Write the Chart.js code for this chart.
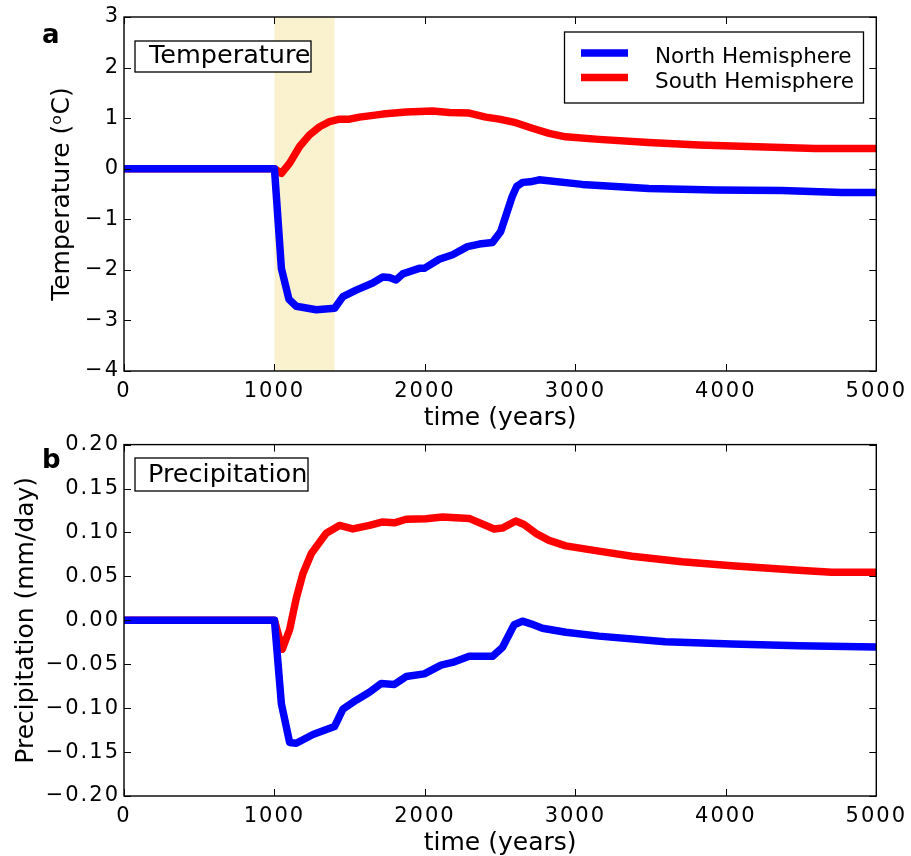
<!DOCTYPE html>
<html><head><meta charset="utf-8">
<script src="https://cdn.jsdelivr.net/npm/chart.js@4/dist/chart.umd.min.js"></script>
<style>
html,body{margin:0;padding:0;background:#fff;}
#wrap{position:relative;width:911px;height:856px;overflow:hidden;}
.c{position:absolute;left:0;width:911px;}
</style></head><body>
<div id="wrap">
<div class="c" style="top:0;height:440px"><canvas id="ca"></canvas></div>
<div class="c" style="top:428px;height:428px"><canvas id="cb"></canvas></div>
</div>
<script>
// ---- Data ----
const seriesNames = ['North Hemisphere', 'South Hemisphere'];
const spanYears = [1000, 1400];

// Panel a: temperature anomaly (°C)
const tempNorthYears = [0, 1000, 1046, 1096, 1145, 1278, 1400, 1455, 1543, 1653, 1720, 1764, 1808, 1852, 1963, 1996, 2095, 2184, 2283, 2361, 2449, 2504, 2580, 2610, 2650, 2700, 2759, 3046, 3488, 3930, 4372, 4770, 5000];
const tempNorth = [0, 0, -1.97, -2.58, -2.72, -2.79, -2.76, -2.53, -2.40, -2.26, -2.14, -2.15, -2.20, -2.08, -1.97, -1.97, -1.79, -1.70, -1.54, -1.49, -1.46, -1.24, -0.55, -0.35, -0.27, -0.26, -0.22, -0.31, -0.39, -0.42, -0.43, -0.47, -0.47];
const tempSouthYears = [0, 1000, 1046, 1101, 1167, 1233, 1300, 1366, 1432, 1499, 1565, 1720, 1875, 2051, 2162, 2294, 2405, 2494, 2604, 2714, 2825, 2936, 3156, 3488, 3820, 4151, 4593, 5000];
const tempSouth = [0, 0, -0.09, 0.11, 0.44, 0.67, 0.83, 0.93, 0.98, 0.98, 1.02, 1.08, 1.12, 1.14, 1.11, 1.10, 1.02, 0.98, 0.91, 0.80, 0.70, 0.63, 0.58, 0.52, 0.47, 0.44, 0.40, 0.40];

// Panel b: precipitation anomaly (mm/day)
const precNorthYears = [0, 1000, 1046, 1101, 1145, 1256, 1399, 1455, 1543, 1631, 1709, 1797, 1875, 1996, 2107, 2184, 2294, 2449, 2515, 2593, 2648, 2704, 2781, 2936, 3156, 3598, 4040, 4483, 5000];
const precNorth = [0, 0, -0.095, -0.139, -0.140, -0.130, -0.121, -0.101, -0.091, -0.082, -0.072, -0.073, -0.064, -0.061, -0.051, -0.048, -0.041, -0.041, -0.031, -0.005, -0.001, -0.004, -0.009, -0.0136, -0.018, -0.0245, -0.027, -0.029, -0.0305];
const precSouthYears = [0, 1000, 1052, 1101, 1145, 1189, 1245, 1344, 1432, 1521, 1631, 1720, 1797, 1875, 2007, 2117, 2294, 2460, 2515, 2604, 2659, 2737, 2825, 2936, 3156, 3377, 3709, 4040, 4483, 4704, 5000];
const precSouth = [0, 0, -0.033, -0.0105, 0.025, 0.053, 0.076, 0.099, 0.108, 0.104, 0.108, 0.112, 0.111, 0.115, 0.1156, 0.1175, 0.116, 0.104, 0.105, 0.113, 0.109, 0.099, 0.091, 0.0847, 0.0787, 0.073, 0.0667, 0.062, 0.057, 0.0546, 0.0546];

const xTicks = [0, 1000, 2000, 3000, 4000, 5000];
const tempTicks = [-4, -3, -2, -1, 0, 1, 2, 3];
const precTicks = [-0.20, -0.15, -0.10, -0.05, 0.00, 0.05, 0.10, 0.15, 0.20];

const FONT = "'DejaVu Sans', 'Liberation Sans', sans-serif";
const BLUE = '#0000ff', RED = '#ff0000';

function pts(xs, ys) { return xs.map((x, i) => ({x: x, y: ys[i]})); }
function minus(s) { return s.replace('-', '\u2212'); }

// widen tick-label glyph spacing (the reference's tick digits are set loosely)
const spacingPlugin = {
  id: 'tickSpacing',
  afterUpdate(chart) {
    Object.values(chart.scales).forEach(s => {
      if (s._spacedPatch) return;
      const orig = s.drawLabels.bind(s);
      s.drawLabels = function (area) {
        const ctx = this.ctx;
        const prev = ctx.letterSpacing;
        ctx.letterSpacing = '2px';
        orig(area);
        ctx.letterSpacing = prev || '0px';
      };
      s._spacedPatch = true;
    });
  }
};

const decoPlugin = {
  id: 'deco',
  beforeDatasetsDraw(chart, args, o) {
    if (!o.span) return;
    const {ctx, chartArea: a, scales: {x}} = chart;
    const x0 = x.getPixelForValue(o.span[0]), x1 = x.getPixelForValue(o.span[1]);
    ctx.save();
    ctx.fillStyle = 'rgb(250,242,206)';
    ctx.fillRect(x0, a.top, x1 - x0, a.bottom - a.top);
    ctx.restore();
  },
  afterDraw(chart, args, o) {
    const {ctx, chartArea: a, scales: {x, y}} = chart;
    ctx.save();
    ctx.letterSpacing = '0px';
    // inward ticks on all four sides
    ctx.strokeStyle = '#000';
    ctx.lineWidth = 1;
    const L = 7;
    ctx.beginPath();
    x.ticks.forEach(t => {
      const px = Math.round(x.getPixelForValue(t.value)) + 0.5;
      ctx.moveTo(px, a.bottom); ctx.lineTo(px, a.bottom - L);
      ctx.moveTo(px, a.top); ctx.lineTo(px, a.top + L);
    });
    y.ticks.forEach(t => {
      const py = Math.round(y.getPixelForValue(t.value)) + 0.5;
      ctx.moveTo(a.left, py); ctx.lineTo(a.left + L, py);
      ctx.moveTo(a.right, py); ctx.lineTo(a.right - L, py);
    });
    ctx.stroke();
    // frame
    ctx.lineWidth = 1.4;
    ctx.strokeRect(a.left, a.top, a.right - a.left, a.bottom - a.top);
    // panel letter
    ctx.fillStyle = '#000';
    ctx.font = 'bold 26px ' + FONT;
    ctx.textBaseline = 'alphabetic';
    ctx.textAlign = 'left';
    ctx.fillText(o.letter, o.letterX, o.letterY);
    // text box
    ctx.fillStyle = '#fff';
    ctx.fillRect(o.box[0], o.box[1], o.box[2], o.box[3]);
    ctx.fillStyle = '#000';
    ctx.font = '25.5px ' + FONT;
    ctx.fillText(o.label, o.labelX, o.labelY);
    ctx.lineWidth = 1.3;
    ctx.strokeRect(o.box[0], o.box[1], o.box[2], o.box[3]);
    // legend
    if (o.legend) {
      const lg = o.legend;
      ctx.fillStyle = '#fff';
      ctx.fillRect(lg.box[0], lg.box[1], lg.box[2], lg.box[3]);
      ctx.strokeRect(lg.box[0], lg.box[1], lg.box[2], lg.box[3]);
      ctx.font = '21.5px ' + FONT;
      chart.data.datasets.forEach((ds, i) => {
        const yy = lg.rowY[i];
        ctx.strokeStyle = ds.borderColor;
        ctx.lineWidth = 7.5;
        ctx.beginPath();
        ctx.moveTo(lg.lineX[0], yy); ctx.lineTo(lg.lineX[1], yy);
        ctx.stroke();
        ctx.fillStyle = '#000';
        ctx.textBaseline = 'alphabetic';
        ctx.fillText(ds.label, lg.textX, yy + lg.textDy);
      });
    }
    ctx.restore();
  }
};

function makeChart(id, cfg) {
  return new Chart(document.getElementById(id), {
    type: 'line',
    data: {
      datasets: [
        {label: seriesNames[0], data: pts(cfg.nx, cfg.ny), borderColor: BLUE, order: 0},
        {label: seriesNames[1], data: pts(cfg.sx, cfg.sy), borderColor: RED, order: 1}
      ]
    },
    options: {
      responsive: true,
      maintainAspectRatio: false,
      animation: false,
      devicePixelRatio: 1,
      parsing: false,
      elements: {
        line: {borderWidth: 7.5, tension: 0, borderJoinStyle: 'round', borderCapStyle: 'butt', fill: false},
        point: {radius: 0, hoverRadius: 0}
      },
      layout: {padding: {top: cfg.padTop, right: 33, left: 0, bottom: 0}},
      plugins: {
        legend: {display: false},
        tooltip: {enabled: false},
        deco: cfg.deco
      },
      scales: {
        x: {
          type: 'linear', min: 0, max: 5000,
          afterBuildTicks: s => { s.ticks = xTicks.map(v => ({value: v})); },
          afterFit: s => { s.height = cfg.xH; },
          grid: {display: false, drawTicks: false},
          border: {display: false},
          ticks: {color: '#000', font: {family: FONT, size: 21}, padding: 8, maxRotation: 0,
                  callback: v => String(v)},
          title: {display: true, text: 'time (years)', color: '#000',
                  font: {family: FONT, size: 25, lineHeight: 1}, padding: {top: 0, bottom: cfg.xtPad}}
        },
        y: {
          type: 'linear', min: cfg.yTicks[0], max: cfg.yTicks[cfg.yTicks.length - 1],
          afterBuildTicks: s => { s.ticks = cfg.yTicks.map(v => ({value: v})); },
          afterFit: s => { s.width = 124; },
          grid: {display: false, drawTicks: false},
          border: {display: false},
          ticks: {color: '#000', font: {family: FONT, size: 21}, padding: 4,
                  callback: cfg.fmt},
          title: {display: true, text: cfg.ytitle, color: '#000',
                  font: {family: FONT, size: 25, lineHeight: 1}, padding: {top: cfg.ytPad, bottom: 0}}
        }
      }
    },
    plugins: [spacingPlugin, decoPlugin]
  });
}

makeChart('ca', {
  nx: tempNorthYears, ny: tempNorth, sx: tempSouthYears, sy: tempSouth,
  padTop: 17, xH: 69, xtPad: 9.5, ytPad: 49.5,
  yTicks: tempTicks, fmt: v => minus(String(v)),
  ytitle: 'Temperature (\u1D52C)',
  deco: {
    span: spanYears, letter: 'a', letterX: 42, letterY: 43,
    box: [135, 41, 176, 31], label: 'Temperature', labelX: 149, labelY: 63,
    legend: {box: [564.5, 32, 299, 71], lineX: [581, 628], rowY: [53, 77.5], textX: 655, textDy: 10}
  }
});

makeChart('cb', {
  nx: precNorthYears, ny: precNorth, sx: precSouthYears, sy: precSouth,
  padTop: 14, xH: 60, xtPad: 0.5, ytPad: 13.5,
  yTicks: precTicks, fmt: v => minus(v.toFixed(2)),
  ytitle: 'Precipitation (mm/day)',
  deco: {
    letter: 'b', letterX: 42, letterY: 40,
    box: [135, 30, 173, 33], label: 'Precipitation', labelX: 148, labelY: 54
  }
});
</script>
</body></html>
